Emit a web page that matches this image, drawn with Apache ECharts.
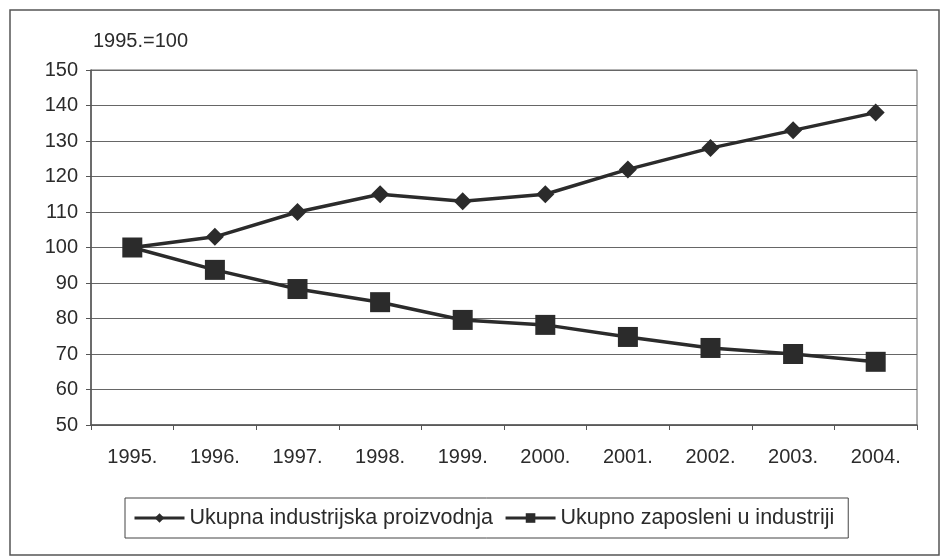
<!DOCTYPE html>
<html>
<head>
<meta charset="utf-8">
<script src="https://cdn.jsdelivr.net/npm/echarts@6/dist/echarts.min.js"></script>
<style>
  html, body { margin: 0; padding: 0; background: #fff; }
  #chart-container { width: 948px; height: 558px; }
</style>
</head>
<body>
<div id="chart-container"></div>
<script>
var years = ['1995.', '1996.', '1997.', '1998.', '1999.', '2000.', '2001.', '2002.', '2003.', '2004.'];
var production = [100, 103, 110, 115, 113, 115, 122, 128, 133, 138];
var employment = [100, 93.7, 88.3, 84.6, 79.6, 78.2, 74.8, 71.7, 70, 67.8];
var seriesNames = ['Ukupna industrijska proizvodnja', 'Ukupno zaposleni u industriji'];

var dom = document.getElementById('chart-container');
var myChart = echarts.init(dom, null, { renderer: 'canvas' });

var font = 'Liberation Sans, Arial, sans-serif';
var ink = '#2b2b2b';

var option = {
  backgroundColor: '#fff',
  animation: false,
  graphic: [
    {
      type: 'rect',
      shape: { x: 10, y: 10, width: 929, height: 545 },
      style: { fill: 'none', stroke: '#555', lineWidth: 1.5 }
    },
    {
      type: 'text',
      left: 93,
      top: 31,
      style: { text: '1995.=100', font: '20px ' + font, fill: ink }
    }
  ],
  grid: {
    left: 91,
    right: 31,
    top: 70,
    bottom: 133,
    show: true,
    borderColor: '#666',
    borderWidth: 1
  },
  legend: {
    top: 498,
    left: 125,
    itemWidth: 50,
    itemHeight: 12,
    itemGap: 11,
    padding: [9, 14, 9, 8],
    borderColor: '#444',
    borderWidth: 1,
    lineStyle: { width: 3 },
    textStyle: { fontFamily: font, fontSize: 21.5, color: ink },
    data: seriesNames
  },
  xAxis: {
    type: 'category',
    data: years,
    boundaryGap: true,
    axisLine: { lineStyle: { color: '#555', width: 1.5 } },
    axisTick: { show: true, length: 5, lineStyle: { color: '#555' } },
    axisLabel: { fontFamily: font, fontSize: 20, color: ink, margin: 22 }
  },
  yAxis: {
    type: 'value',
    min: 50,
    max: 150,
    interval: 10,
    axisLine: { show: true, lineStyle: { color: '#555', width: 1.5 } },
    axisTick: { show: true, length: 5, lineStyle: { color: '#555' } },
    axisLabel: { fontFamily: font, fontSize: 20, color: ink, margin: 13 },
    splitLine: { lineStyle: { color: '#666', width: 1 } }
  },
  series: [
    {
      name: seriesNames[0],
      type: 'line',
      data: production,
      symbol: 'diamond',
      symbolSize: 18,
      lineStyle: { color: ink, width: 3.5 },
      itemStyle: { color: ink }
    },
    {
      name: seriesNames[1],
      type: 'line',
      data: employment,
      symbol: 'rect',
      symbolSize: 20,
      lineStyle: { color: ink, width: 3.5 },
      itemStyle: { color: ink }
    }
  ]
};

if (option && typeof option === 'object') {
  myChart.setOption(option);
}

window.addEventListener('resize', myChart.resize);
</script>
</body>
</html>
